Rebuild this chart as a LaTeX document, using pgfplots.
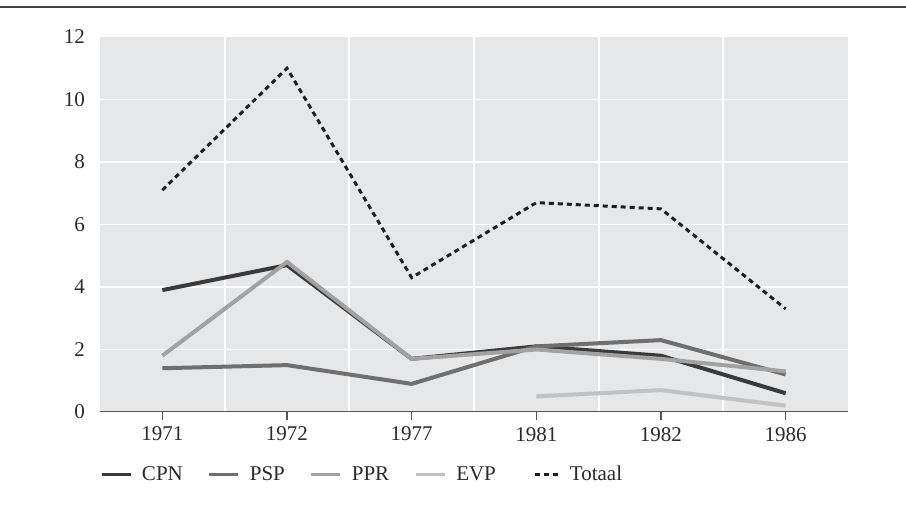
\documentclass[border=0pt]{standalone}
\usepackage{fontspec}
\setmainfont{Liberation Serif}
\usepackage{pgfplots}
\pgfplotsset{compat=1.18}
\definecolor{bggray}{HTML}{E6E7E9}
\definecolor{rulegray}{HTML}{404040}
\definecolor{axisgray}{HTML}{555555}
\definecolor{textgray}{HTML}{2A2A2A}
\definecolor{cpn}{HTML}{3A3A3A}
\definecolor{psp}{HTML}{6F6F6F}
\definecolor{ppr}{HTML}{A2A2A2}
\definecolor{evp}{HTML}{C2C2C2}
\definecolor{tot}{HTML}{1E1E1E}
\pgfplotsset{totlegend/.style={legend image code/.code={\draw[##1] (3pt,0pt) -- (14.5pt,0pt);}}}
\begin{document}
\begin{tikzpicture}
\path[use as bounding box] (-50pt,-47.5pt) rectangle (403pt,206pt);
\draw[line width=1pt, rulegray] (-50pt,202.5pt) -- (403pt,202.5pt);
\begin{axis}[
  at={(0pt,0pt)}, anchor=south west,
  scale only axis, width=374pt, height=187.5pt,
  xmin=-0.5, xmax=5.5, ymin=0, ymax=12,
  xtick={0,...,5}, xticklabels={1971,1972,1977,1981,1982,1986},
  minor xtick={0.5,1.5,2.5,3.5,4.5},
  ytick={0,2,...,10},
  extra y ticks={12}, extra y tick style={grid=none},
  ymajorgrids, xminorgrids,
  grid style={white, line width=0.9pt},
  minor grid style={white, line width=0.9pt},
  axis background/.style={fill=bggray},
  axis line style={draw=none},
  xtick pos=bottom, xtick align=outside,
  ytick style={draw=none}, minor tick length=0pt,
  major tick length=4pt,
  xtick style={draw=axisgray, line width=0.8pt},
  tick label style={font=\fontsize{10.5}{12}\selectfont, text=textgray},
  /pgf/number format/assume math mode=true,
  yticklabel style={xshift=-4pt},
  legend columns=5,
  legend cell align=left,
  legend style={at={(0,0)}, anchor=west, yshift=-31.5pt, draw=none, fill=none,
    inner sep=0pt, outer sep=0pt, font=\fontsize{10.5}{12}\selectfont, text=textgray,
    nodes={inner sep=0pt},
    /tikz/every odd column/.append style={column sep=5pt},
    /tikz/column 2/.append style={column sep=12.5pt},
    /tikz/column 4/.append style={column sep=12.5pt},
    /tikz/column 6/.append style={column sep=12.5pt},
    /tikz/column 8/.append style={column sep=19pt}},
  legend image code/.code={\draw[#1, line width=1.5pt] (0pt,0pt) -- (14.5pt,0pt);},
]
\addplot[cpn, line width=2pt] coordinates {(0,3.9) (1,4.7) (2,1.7) (3,2.1) (4,1.8) (5,0.6)};
\addlegendentry{CPN}
\addplot[psp, line width=2pt] coordinates {(0,1.4) (1,1.5) (2,0.9) (3,2.1) (4,2.3) (5,1.2)};
\addlegendentry{PSP}
\addplot[ppr, line width=2pt] coordinates {(0,1.8) (1,4.8) (2,1.7) (3,2.0) (4,1.7) (5,1.3)};
\addlegendentry{PPR}
\addplot[evp, line width=2pt] coordinates {(3,0.5) (4,0.7) (5,0.2)};
\addlegendentry{EVP}
\addplot[tot, line width=1.5pt, dash pattern=on 2.5pt off 2pt, totlegend]
  coordinates {(0,7.1) (1,11.0) (2,4.3) (3,6.7) (4,6.5) (5,3.3)};
\addlegendentry{Totaal}
\draw[axisgray, line width=1pt] (rel axis cs:0,0) -- (rel axis cs:1,0);
\end{axis}
\end{tikzpicture}
\end{document}
